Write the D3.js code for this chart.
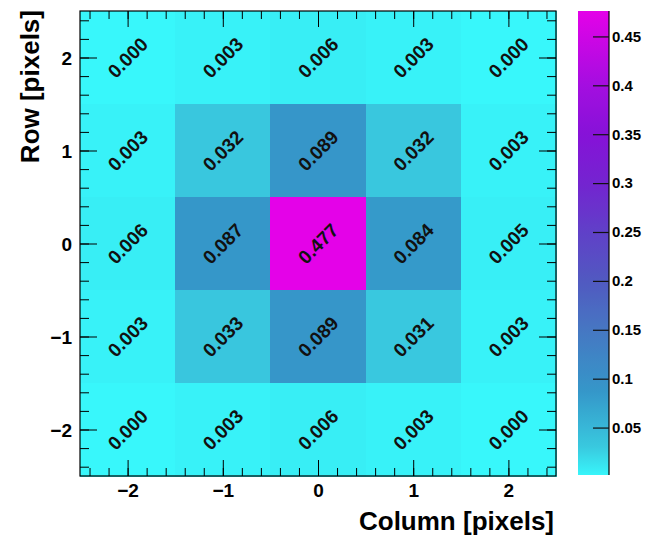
<!DOCTYPE html>
<html>
<head>
<meta charset="utf-8">
<script src="https://cdn.jsdelivr.net/npm/d3@7"></script>
<style>
  html, body { margin: 0; padding: 0; background: #fff; }
  svg { display: block; }
  text { font-family: "Liberation Sans", Arial, Helvetica, sans-serif; font-weight: bold; }
</style>
</head>
<body>
<svg id="chart" width="646" height="539"></svg>
<script>
// Pixel offsets of the 5x5 neighbourhood
const columns = [-2, -1, 0, 1, 2];
const rows = [2, 1, 0, -1, -2];

// Fraction of charge per pixel, one array per row (top row first)
const row2  = [0.000, 0.003, 0.006, 0.003, 0.000];
const row1  = [0.003, 0.032, 0.089, 0.032, 0.003];
const row0  = [0.006, 0.087, 0.477, 0.084, 0.005];
const rowM1 = [0.003, 0.033, 0.089, 0.031, 0.003];
const rowM2 = [0.000, 0.003, 0.006, 0.003, 0.000];
const values = [row2, row1, row0, rowM1, rowM2];

const axisTicks = [-2, -1, 0, 1, 2];
const colorTicks = [0.05, 0.1, 0.15, 0.2, 0.25, 0.3, 0.35, 0.4, 0.45];
const zRange = [0.0015, 0.476];

const svg = d3.select("#chart");
const frame = { left: 80, right: 556, top: 11, bottom: 476 };

const x = d3.scaleLinear().domain([-2.5, 2.5]).range([frame.left, frame.right]);
const y = d3.scaleLinear().domain([-2.5, 2.5]).range([frame.bottom, frame.top]);

// Cyan -> steel blue -> violet -> magenta palette
const paletteStops = [0, 0.03, 0.087, 0.15, 0.2, 0.25, 0.3, 0.35, 0.4, 0.476];
const paletteColors = ["#38f7fb", "#39c9df", "#3597c9", "#4677c2", "#5159c1", "#6040c8",
                       "#7424d0", "#8612d8", "#a40ee0", "#e402e8"];
const color = d3.scaleLinear().domain(paletteStops).range(paletteColors)
  .interpolate(d3.interpolateRgb).clamp(true);

const cells = [];
rows.forEach((r, i) => columns.forEach((c, j) => cells.push({ r, c, v: values[i][j] })));

// Heat map cells
svg.append("g").attr("shape-rendering", "crispEdges")
  .selectAll("rect").data(cells).join("rect")
  .attr("x", d => x(d.c - 0.5))
  .attr("y", d => y(d.r + 0.5))
  .attr("width", d => x(d.c + 0.5) - x(d.c - 0.5) + 0.5)
  .attr("height", d => y(d.r - 0.5) - y(d.r + 0.5) + 0.5)
  .attr("fill", d => color(d.v));

// Value labels, rotated 45 degrees
svg.append("g").selectAll("text").data(cells).join("text")
  .attr("transform", d => `translate(${x(d.c)},${y(d.r)}) rotate(-45)`)
  .attr("text-anchor", "middle")
  .attr("dy", "0.36em")
  .attr("font-size", 19)
  .attr("fill", "#111")
  .text(d => d.v.toFixed(3));

// Ticks on all four sides of the frame, pointing inward
const minorTicks = d3.range(-2.4, 2.41, 0.2).map(v => Math.round(v * 10) / 10);
const fmt = v => v < 0 ? "\u2212" + Math.abs(v) : String(v);

function tickAxis(axisFn, scale, transform, inner, minorLen, majorLen) {
  const gMinor = svg.append("g").attr("transform", transform)
    .call(axisFn(scale).tickValues(minorTicks).tickSize(-minorLen).tickFormat(""));
  gMinor.select(".domain").remove();
  const gMajor = svg.append("g").attr("transform", transform)
    .call(axisFn(scale).tickValues(axisTicks).tickSize(-majorLen).tickPadding(8).tickFormat(inner ? "" : fmt));
  gMajor.select(".domain").remove();
  gMajor.selectAll("text").attr("font-size", 19).attr("fill", "#000");
  [gMinor, gMajor].forEach(g => g.selectAll("line").attr("stroke", "#000").attr("stroke-width", 1));
  return gMajor;
}

tickAxis(d3.axisBottom, x, `translate(0,${frame.bottom})`, false, 8, 16);
tickAxis(d3.axisTop, x, `translate(0,${frame.top})`, true, 8, 16);
const yAx = tickAxis(d3.axisLeft, y, `translate(${frame.left},0)`, false, 9, 17);
tickAxis(d3.axisRight, y, `translate(${frame.right},0)`, true, 9, 17);
yAx.selectAll("text").attr("dy", "0.36em");

// Frame
svg.append("rect")
  .attr("x", frame.left).attr("y", frame.top)
  .attr("width", frame.right - frame.left).attr("height", frame.bottom - frame.top)
  .attr("fill", "none").attr("stroke", "#000").attr("stroke-width", 1.2);

// Axis titles
svg.append("text")
  .attr("x", frame.right - 2).attr("y", 530)
  .attr("text-anchor", "end").attr("font-size", 26).attr("fill", "#000")
  .text("Column [pixels]");
svg.append("text")
  .attr("transform", `translate(39,${frame.top - 1}) rotate(-90)`)
  .attr("text-anchor", "end").attr("font-size", 26).attr("fill", "#000")
  .text("Row [pixels]");

// Colour bar
const bar = { left: 578, right: 609, top: 11, bottom: 475 };
const z = d3.scaleLinear().domain(zRange).range([bar.bottom, bar.top]);

const defs = svg.append("defs");
const grad = defs.append("linearGradient").attr("id", "zgrad")
  .attr("x1", 0).attr("y1", 1).attr("x2", 0).attr("y2", 0);
d3.range(0, 1.0001, 0.02).forEach(t => {
  const v = zRange[0] + t * (zRange[1] - zRange[0]);
  grad.append("stop").attr("offset", t).attr("stop-color", color(v));
});
svg.append("rect")
  .attr("x", bar.left).attr("y", bar.top)
  .attr("width", bar.right - bar.left).attr("height", bar.bottom - bar.top)
  .attr("fill", "url(#zgrad)");

const zAxis = svg.append("g").attr("transform", `translate(${bar.right},0)`)
  .call(d3.axisRight(z).tickValues(colorTicks).tickSize(-16).tickPadding(4).tickFormat(d3.format("~g")));
zAxis.select(".domain").attr("d", `M0,${bar.top}V${bar.bottom}`).attr("stroke", "#000").attr("stroke-width", 1.2);
zAxis.selectAll("line").attr("stroke", "#111").attr("stroke-width", 1.2);
zAxis.selectAll("text").attr("font-size", 15).attr("fill", "#000").attr("x", 3);
</script>
</body>
</html>
